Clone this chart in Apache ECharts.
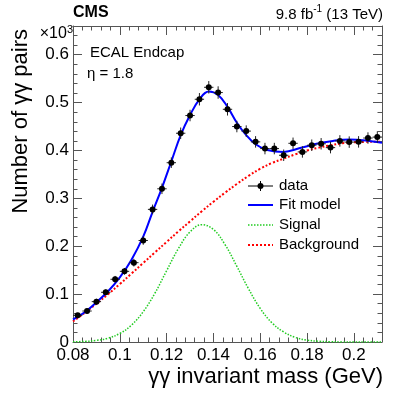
<!DOCTYPE html>
<html><head><meta charset="utf-8">
<script src="https://cdn.jsdelivr.net/npm/echarts@6/dist/echarts.min.js"></script>
<style>html,body{margin:0;padding:0;background:#fff}#c{width:407px;height:393px}</style>
</head><body><div id="c"></div>
<script>
// ---- data (values in units of 10^3 pairs) ----
const binCenters = [0.082,0.086,0.090,0.094,0.098,0.102,0.106,0.110,0.114,0.118,0.122,0.126,0.130,0.134,0.138,0.142,0.146,0.150,0.154,0.158,0.162,0.166,0.170,0.174,0.178,0.182,0.186,0.190,0.194,0.198,0.202,0.206,0.210];
const dataValues = [0.0557,0.0647,0.0843,0.1038,0.131,0.1476,0.1657,0.212,0.277,0.320,0.3745,0.436,0.473,0.507,0.532,0.521,0.486,0.450,0.4405,0.418,0.404,0.404,0.390,0.415,0.397,0.411,0.414,0.406,0.420,0.4175,0.418,0.426,0.428];
const dataErrors = [0.005,0.005,0.006,0.006,0.007,0.007,0.008,0.009,0.010,0.011,0.011,0.012,0.012,0.013,0.013,0.013,0.013,0.012,0.012,0.012,0.012,0.012,0.012,0.012,0.012,0.012,0.012,0.012,0.012,0.012,0.012,0.012,0.012];
const binHalfWidth = 0.002;

const fitX = [0.080,0.085,0.090,0.095,0.100,0.105,0.110,0.114,0.118,0.122,0.126,0.130,0.134,0.138,0.142,0.146,0.150,0.154,0.158,0.163,0.170,0.177,0.184,0.191,0.198,0.205,0.212];
const fitY = [0.047,0.062,0.083,0.106,0.135,0.172,0.220,0.272,0.322,0.377,0.432,0.474,0.507,0.523,0.516,0.491,0.458,0.432,0.413,0.401,0.397,0.405,0.414,0.420,0.423,0.421,0.416];

const sigX = [0.080,0.085,0.090,0.095,0.100,0.105,0.110,0.115,0.120,0.125,0.130,0.135,0.140,0.145,0.150,0.155,0.160,0.165,0.170,0.175,0.180,0.185,0.190,0.195,0.200,0.205,0.212];
const sigY = [0.0004,0.0012,0.0033,0.0081,0.0178,0.0353,0.0633,0.102,0.149,0.195,0.230,0.245,0.235,0.203,0.158,0.111,0.070,0.040,0.021,0.0095,0.004,0.0015,0.0005,0.0002,0.0001,0,0];

const bgX = [0.080,0.085,0.090,0.095,0.100,0.105,0.110,0.115,0.120,0.125,0.130,0.135,0.140,0.145,0.150,0.155,0.160,0.165,0.170,0.175,0.180,0.185,0.190,0.195,0.200,0.205,0.210,0.212];
const bgY = [0.043,0.061,0.080,0.100,0.121,0.143,0.165,0.187,0.209,0.231,0.252,0.273,0.293,0.312,0.330,0.347,0.362,0.374,0.383,0.392,0.400,0.406,0.411,0.415,0.417,0.418,0.418,0.418];

const xTicks = {min:0.08, max:0.212, major:0.02, minor:0.004};
const yTicks = {min:0, max:0.66, major:0.1, minor:0.02};

const FONT = '"Liberation Sans", Arial, sans-serif';
const AX = '#555';

function mkX(pos, major, show) {
  return {
    type:'value', position:pos, min:xTicks.min, max:xTicks.max,
    interval: major ? xTicks.major : xTicks.minor,
    axisLine:{show:major, onZero:false, lineStyle:{color:AX, width:1}},
    axisTick:{show:true, inside:true, length: major?9:4.5, lineStyle:{color:AX, width:1}},
    splitLine:{show:false},
    axisLabel:{show: show, showMaxLabel:false, margin:5, color:'#000', fontSize:17, fontFamily:FONT,
      formatter: v => String(Math.round(v*1000)/1000)}
  };
}
function mkY(pos, major, show) {
  return {
    type:'value', position:pos, min:yTicks.min, max:yTicks.max,
    interval: major ? yTicks.major : yTicks.minor,
    axisLine:{show:major, onZero:false, lineStyle:{color:AX, width:1}},
    axisTick:{show:true, inside:true, length: major?9:4.5, lineStyle:{color:AX, width:1}},
    splitLine:{show:false},
    axisLabel:{show: show, showMaxLabel:false, margin:4, color:'#000', fontSize:17, fontFamily:FONT,
      formatter: v => v===0 ? '0' : String(Math.round(v*10)/10)}
  };
}

const chart = echarts.init(document.getElementById('c'), null, {renderer:'canvas'});
const zip = (xs, ys) => xs.map((x,i)=>[x, ys[i]]);

const legendRows = [
  {label:'data', y:186},
  {label:'Fit model', y:205},
  {label:'Signal', y:225},
  {label:'Background', y:245}
];
const LX0 = 248, LX1 = 273, LTX = 279;

const graphic = [
  {type:'text', x:73, y:13, style:{text:'CMS', font:'bold 16px '+FONT, fill:'#000', textAlign:'left', textVerticalAlign:'middle'}},
  {type:'text', x:383, y:13, style:{text:'{n|9.8 fb}{s|-1}{n| (13 TeV)}', textAlign:'right', textVerticalAlign:'middle',
     rich:{n:{fontSize:15, fontFamily:FONT, color:'#000', lineHeight:18, verticalAlign:'bottom'}, s:{fontSize:10, fontFamily:FONT, color:'#000', lineHeight:18, verticalAlign:'top'}}}},
  {type:'text', x:73, y:33, style:{text:'{n|×10}{s|3}', textAlign:'right', textVerticalAlign:'middle',
     rich:{n:{fontSize:16, fontFamily:FONT, color:'#000', lineHeight:18, verticalAlign:'bottom'}, s:{fontSize:11, fontFamily:FONT, color:'#000', lineHeight:18, verticalAlign:'top'}}}},
  {type:'text', x:90, y:53, style:{text:'ECAL Endcap', font:'15px '+FONT, fill:'#000', textAlign:'left', textVerticalAlign:'middle'}},
  {type:'text', x:87, y:74, style:{text:'η = 1.8', font:'15px '+FONT, fill:'#000', textAlign:'left', textVerticalAlign:'middle'}},
  {type:'text', x:383, y:377, style:{text:'γγ invariant mass (GeV)', font:'22px '+FONT, fill:'#000', textAlign:'right', textVerticalAlign:'middle'}},
  {type:'text', x:21, y:29, rotation:Math.PI/2, style:{text:'Number of γγ pairs', font:'22px '+FONT, fill:'#000', textAlign:'right', textVerticalAlign:'middle'}},
  // legend
  {type:'line', shape:{x1:LX0, y1:legendRows[0].y, x2:LX1, y2:legendRows[0].y}, style:{stroke:'#000', lineWidth:1}},
  {type:'line', shape:{x1:(LX0+LX1)/2, y1:legendRows[0].y-5, x2:(LX0+LX1)/2, y2:legendRows[0].y+5}, style:{stroke:'#000', lineWidth:1}},
  {type:'circle', shape:{cx:(LX0+LX1)/2, cy:legendRows[0].y, r:3}, style:{fill:'#000'}},
  {type:'line', shape:{x1:LX0, y1:legendRows[1].y, x2:LX1, y2:legendRows[1].y}, style:{stroke:'#0000ff', lineWidth:2}},
  {type:'line', shape:{x1:LX0, y1:legendRows[2].y, x2:LX1, y2:legendRows[2].y}, style:{stroke:'#22cc22', lineWidth:1.5, lineDash:[1.5,1.5]}},
  {type:'line', shape:{x1:LX0, y1:legendRows[3].y, x2:LX1, y2:legendRows[3].y}, style:{stroke:'#ff0000', lineWidth:2, lineDash:[2,2]}}
].concat(legendRows.map(r => ({type:'text', x:LTX, y:r.y, style:{text:r.label, font:'15px '+FONT, fill:'#000', textAlign:'left', textVerticalAlign:'middle'}})));

chart.setOption({
  animation:false,
  backgroundColor:'#fff',
  grid:{left:73, right:25, top:26, bottom:51, containLabel:false},
  xAxis:[mkX('bottom', true, true), mkX('bottom', false, false), mkX('top', true, false), mkX('top', false, false)],
  yAxis:[mkY('left', true, true), mkY('left', false, false), mkY('right', true, false), mkY('right', false, false)],
  graphic: graphic,
  series:[
    {name:'Signal', type:'line', data:zip(sigX, sigY), smooth:0.4, showSymbol:false, clip:true,
      lineStyle:{color:'#22cc22', width:1.5, type:[1.5,1.5]}, z:2},
    {name:'Background', type:'line', data:zip(bgX, bgY), smooth:0.4, showSymbol:false, clip:true,
      lineStyle:{color:'#ff0000', width:2, type:[2,2]}, z:3},
    {name:'Fit model', type:'line', data:zip(fitX, fitY), smooth:0.4, showSymbol:false, clip:true,
      lineStyle:{color:'#0000ff', width:2}, z:4},
    {name:'data', type:'custom', z:5,
      data: binCenters.map((x,i)=>[x, dataValues[i], dataErrors[i]]),
      renderItem: function(params, api){
        const x = api.value(0), y = api.value(1), e = api.value(2);
        const c = api.coord([x, y]);
        const l = api.coord([x-binHalfWidth, y]), r = api.coord([x+binHalfWidth, y]);
        const t = api.coord([x, y+e]), b = api.coord([x, y-e]);
        const st = {stroke:'#222', lineWidth:1};
        return {type:'group', children:[
          {type:'line', shape:{x1:l[0], y1:c[1], x2:r[0], y2:c[1]}, style:st},
          {type:'line', shape:{x1:c[0], y1:t[1], x2:c[0], y2:b[1]}, style:st},
          {type:'circle', shape:{cx:c[0], cy:c[1], r:3}, style:{fill:'#000'}}
        ]};
      }}
  ]
});
</script></body></html>
